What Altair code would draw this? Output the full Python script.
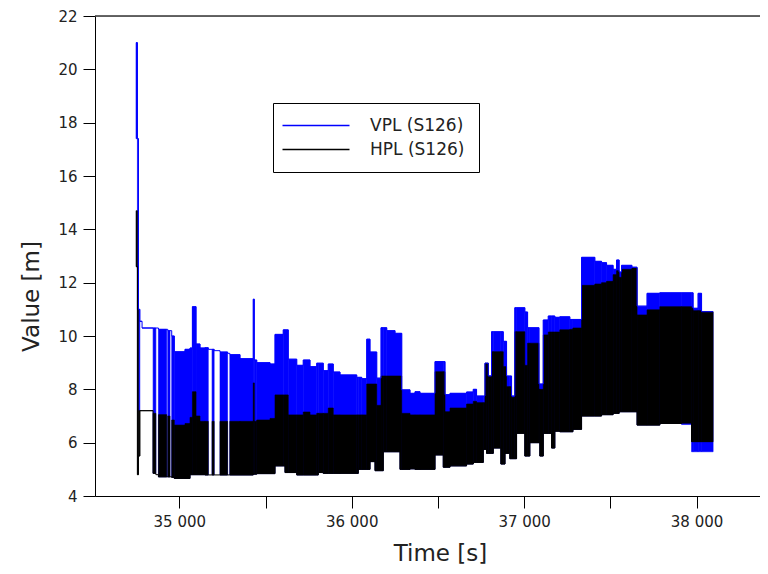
import altair as alt
import pandas as pd

# step breakpoints (s); each row holds until the next time
time_s = [34749, 34757, 34763, 34771, 34784, 34848, 34864, 34879, 34927, 34933,
          34946, 34956, 34971, 35033, 35062, 35076, 35097, 35120, 35149, 35168,
          35190, 35202, 35236, 35280, 35293, 35352, 35429, 35435, 35449, 35526,
          35555, 35603, 35613, 35632, 35681, 35719, 35758, 35797, 35806, 35835,
          35864, 35893, 35932, 36029, 36038, 36058, 36087, 36106, 36135, 36145,
          36170, 36183, 36203, 36251, 36280, 36290, 36338, 36367, 36396, 36483,
          36531, 36541, 36570, 36666, 36705, 36724, 36763, 36773, 36782, 36792,
          36811, 36821, 36865, 36879, 36889, 36898, 36917, 36927, 36946, 36956,
          37004, 37020, 37033, 37086, 37091, 37111, 37140, 37159, 37178, 37207,
          37265, 37283, 37333, 37410, 37449, 37478, 37516, 37536, 37551, 37565,
          37625, 37655, 37713, 37787, 37913, 37971, 37980, 38009, 38029]
time_end = 38096

vpl_hi = [21.0, 17.4, 11.0, 10.55, 10.3, 10.3, 10.3, 10.25, 10.25, 10.2,
          10.2, 10.0, 9.41, 9.5, 9.55, 11.1, 9.7, 9.55, 9.56, 9.5,
          9.5, 9.45, 9.4, 9.35, 9.3, 9.15, 11.38, 9.1, 9.0, 8.95,
          10.06, 10.23, 10.23, 9.13, 8.9, 9.1, 8.85, 8.98, 8.98, 8.7,
          8.95, 8.65, 8.54, 8.45, 8.45, 8.4, 9.88, 9.4, 9.4, 8.42,
          10.31, 10.31, 10.2, 10.1, 10.1, 7.98, 7.85, 7.91, 7.85, 9.04,
          9.04, 7.8, 7.85, 7.9, 8.0, 7.75, 7.75, 8.98, 8.98, 8.5,
          10.16, 10.16, 10.16, 9.8, 9.8, 8.5, 8.5, 7.75, 11.06, 11.06,
          10.9, 10.31, 10.31, 8.2, 8.2, 10.6, 10.75, 10.75, 10.7, 10.72,
          10.62, 10.62, 12.95, 12.8, 12.75, 12.65, 12.5, 12.85, 12.4, 12.65,
          12.58, 11.12, 11.6, 11.62, 11.62, 11.62, 11.04, 11.6, 10.91]

vpl_lo = [17.4, 11.0, 7.2, 10.55, 10.3, 4.85, 4.8, 4.72, 4.72, 4.72,
          4.72, 4.7, 4.66, 4.66, 4.8, 4.8, 4.8, 4.8, 4.79, 4.79,
          4.79, 4.79, 4.79, 4.79, 4.79, 4.79, 4.82, 4.82, 4.84, 4.84,
          5.13, 5.13, 4.88, 4.88, 4.79, 4.79, 4.79, 4.79, 4.88, 4.85,
          4.85, 4.85, 4.85, 4.85, 5.0, 5.0, 5.0, 5.29, 4.95, 4.95,
          4.95, 5.66, 5.66, 5.66, 5.0, 5.0, 5.02, 5.0, 5.0, 5.54,
          5.08, 5.08, 5.13, 5.2, 5.26, 5.26, 5.75, 5.75, 5.6, 5.6,
          5.6, 5.8, 5.2, 5.2, 5.6, 5.6, 5.4, 5.4, 5.4, 6.35,
          5.5, 5.5, 6.0, 6.0, 5.5, 6.35, 6.35, 5.8, 6.43, 6.41,
          6.41, 6.5, 7.0, 7.0, 7.05, 7.05, 7.1, 7.1, 7.16, 7.16,
          7.16, 6.66, 6.66, 6.72, 6.68, 5.66, 5.66, 5.66, 5.66]

hpl_hi = [14.7, 12.6, 7.2, 7.2, 7.2, 7.1, 7.1, 7.05, 7.05, 7.0,
          7.0, 6.85, 6.66, 6.72, 6.95, 7.91, 7.0, 6.8, 6.8, 6.8,
          6.8, 6.8, 6.8, 6.8, 6.8, 6.8, 8.24, 6.8, 6.85, 6.91,
          7.79, 7.79, 7.79, 7.04, 7.04, 7.15, 7.04, 7.1, 7.1, 7.1,
          7.3, 7.04, 7.04, 7.04, 7.04, 7.04, 8.2, 8.2, 8.2, 7.4,
          8.5, 8.5, 8.5, 8.5, 8.5, 7.1, 7.04, 7.04, 7.04, 8.66,
          8.66, 7.16, 7.3, 7.45, 7.55, 7.5, 7.5, 8.98, 8.98, 8.5,
          9.41, 9.41, 9.41, 8.85, 8.85, 8.1, 8.1, 7.7, 10.16, 10.16,
          8.9, 9.73, 9.73, 8.0, 8.0, 10.04, 10.15, 10.15, 10.15, 10.23,
          10.25, 10.3, 11.9, 11.95, 12.0, 12.05, 12.3, 12.45, 12.2, 12.5,
          12.55, 10.79, 10.98, 11.1, 11.1, 11.05, 10.95, 10.95, 10.91]

hpl_lo = [12.6, 4.8, 5.5, 7.2, 7.2, 4.85, 4.8, 4.72, 4.72, 4.72,
          4.72, 4.7, 4.66, 4.66, 4.8, 4.8, 4.8, 4.8, 4.79, 4.79,
          4.79, 4.79, 4.79, 4.79, 4.79, 4.79, 4.82, 4.82, 4.84, 4.84,
          5.13, 5.13, 4.88, 4.88, 4.79, 4.79, 4.79, 4.79, 4.88, 4.85,
          4.85, 4.85, 4.85, 4.85, 5.0, 5.0, 5.0, 5.29, 4.95, 4.95,
          4.95, 5.66, 5.66, 5.66, 5.0, 5.0, 5.02, 5.0, 5.0, 5.54,
          5.08, 5.08, 5.13, 5.2, 5.26, 5.26, 5.75, 5.75, 5.6, 5.6,
          5.6, 5.8, 5.2, 5.2, 5.6, 5.6, 5.4, 5.4, 5.4, 6.35,
          5.5, 5.5, 6.0, 6.0, 5.5, 6.35, 6.35, 5.8, 6.43, 6.41,
          6.41, 6.5, 7.0, 7.0, 7.05, 7.05, 7.1, 7.1, 7.16, 7.16,
          7.16, 6.66, 6.66, 6.72, 6.74, 6.04, 6.04, 6.04, 6.04]

# 1 = dense oscillation (filled band), 0 = data gap
filled = [1, 1, 1, 1, 1, 1, 0, 1, 0, 1,
          0, 1, 1, 1, 1, 1, 1, 1, 1, 0,
          1, 0, 1, 0, 1, 1, 1, 1, 1, 1,
          1, 1, 1, 1, 1, 1, 1, 1, 1, 1,
          1, 1, 1, 1, 1, 1, 1, 1, 1, 1,
          1, 1, 1, 1, 1, 1, 1, 1, 1, 1,
          1, 1, 1, 1, 1, 1, 1, 1, 1, 1,
          1, 1, 1, 1, 1, 1, 1, 1, 1, 1,
          1, 1, 1, 1, 1, 1, 1, 1, 1, 1,
          1, 1, 1, 1, 1, 1, 1, 1, 1, 1,
          1, 1, 1, 1, 1, 1, 1, 1, 1]

series_names = ["VPL (S126)", "HPL (S126)"]
series_colors = ["#0000ff", "#000000"]
x_ticks = [35000, 35500, 36000, 36500, 37000, 37500, 38000]
y_ticks = list(range(4, 23))
x_domain = [34511, 38368]
y_domain = [4, 22]

FONT = "DejaVu Sans"
TEXT = "#222222"

df = pd.DataFrame({
    "t": time_s,
    "t2": time_s[1:] + [time_end],
    "vhi": vpl_hi, "vlo": vpl_lo,
    "hhi": hpl_hi, "hlo": hpl_lo,
    "filled": filled,
})
fill_df = df[df["filled"] == 1]

line_df = pd.concat([
    pd.DataFrame({"t": time_s + [time_end], "v": vpl_hi + [vpl_hi[-1]],
                  "series": series_names[0]}),
    pd.DataFrame({"t": time_s + [time_end], "v": hpl_lo + [hpl_lo[-1]],
                  "series": series_names[1]}),
])

x_axis = alt.Axis(
    values=x_ticks,
    labelExpr="datum.value % 1000 == 0 ? replace(format(datum.value, ','), ',', ' ') : ''",
    tickSize=12, tickColor="black", domainColor="black", labelColor=TEXT,
    labelFont=FONT, labelFontSize=15, labelPadding=6, grid=False,
    title="Time [s]", titleFont=FONT, titleFontSize=23, titleFontWeight="normal",
    titleColor=TEXT, titleX=345, titleY=57, titleBaseline="middle", titleAngle=0,
)
y_axis = alt.Axis(
    values=y_ticks,
    labelExpr="datum.value % 2 == 0 ? datum.value : ''",
    tickSize={"condition": {"test": "datum.value % 2 === 0", "value": 12}, "value": 7},
    tickColor="black", domainColor="black", labelColor=TEXT,
    labelFont=FONT, labelFontSize=15, labelPadding=6, grid=False,
    title="Value [m]", titleFont=FONT, titleFontSize=23, titleFontWeight="normal",
    titleColor=TEXT, titleX=-64, titleY=280, titleAngle=-90, titleBaseline="middle",
)

xs = alt.Scale(domain=x_domain, nice=False, zero=False)
ys = alt.Scale(domain=y_domain, nice=False, zero=False)

vpl_band = alt.Chart(fill_df).mark_rect(color="#0000ff", stroke="#0000ff", strokeWidth=0.6).encode(
    x=alt.X("t:Q", scale=xs, axis=x_axis),
    x2="t2:Q",
    y=alt.Y("vlo:Q", scale=ys, axis=y_axis),
    y2="vhi:Q",
)
hpl_band = alt.Chart(fill_df).mark_rect(color="#000000", stroke="#000000", strokeWidth=0.6).encode(
    x=alt.X("t:Q", scale=xs),
    x2="t2:Q",
    y=alt.Y("hlo:Q", scale=ys),
    y2="hhi:Q",
)
lines = alt.Chart(line_df).mark_line(interpolate="step-after", strokeWidth=1).encode(
    x=alt.X("t:Q", scale=xs),
    y=alt.Y("v:Q", scale=ys),
    color=alt.Color(
        "series:N",
        scale=alt.Scale(domain=series_names, range=series_colors),
        sort=series_names,
        legend=alt.Legend(
            title=None, orient="none", legendX=178, legendY=87,
            symbolType="M-6.5,0H27", symbolSize=16, symbolStrokeWidth=1.5,
            labelFont=FONT, labelFontSize=17, labelColor=TEXT, labelOffset=66,
            padding=14, strokeColor="#000000", fillColor="#ffffff", rowPadding=6,
        ),
    ),
)
top_frame = alt.Chart(pd.DataFrame({"v": [y_domain[1]]})).mark_rule(color="#333333", strokeWidth=1.5).encode(
    y=alt.Y("v:Q", scale=ys)
)

chart = alt.layer(vpl_band, hpl_band, lines, top_frame).properties(
    width=665, height=480,
    autosize=alt.AutoSizeParams(type="none"),
    padding={"left": 87, "top": 8, "right": 0, "bottom": 70},
    background="white",
).configure_view(stroke=None).configure(font=FONT)

chart.save("out.html", embed_options={"renderer": "svg", "actions": False})
